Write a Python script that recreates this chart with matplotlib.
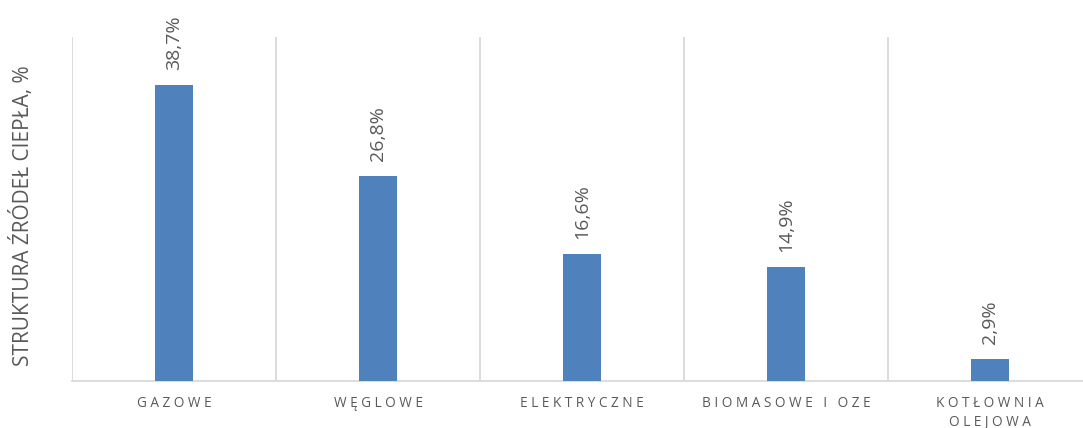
import matplotlib
matplotlib.use("Agg")
import matplotlib.pyplot as plt
import numpy as np

categories = ["GAZOWE", "WĘGLOWE", "ELEKTRYCZNE", "BIOMASOWE I OZE", "KOTŁOWNIA\nOLEJOWA"]
shares = [38.7, 26.8, 16.6, 14.9, 2.9]

BAR = "#4f81bd"
TEXT = "#595959"
GRID = "#d9d9d9"

plt.rcParams["font.family"] = ["Open Sans", "DejaVu Sans"]


def spaced(label):
    # wide letter tracking for the category axis
    return "\n".join(" ".join(line) for line in label.split("\n"))


fig = plt.figure(figsize=(10.83, 4.28), dpi=100)
ax = fig.add_axes([72 / 1083, 47 / 428, 1020 / 1083, 344 / 428])

x = np.arange(len(categories))
ax.bar(x, shares, width=0.187, color=BAR, zorder=3)
ax.set_xlim(-0.5, len(categories) - 0.5)
ax.set_ylim(0, 45)

for b in np.arange(-0.5, len(categories), 1.0):
    ax.axvline(b, color=GRID, lw=1.3, zorder=1)

for xi, v in zip(x, shares):
    ax.annotate(f"{v:.1f}%".replace(".", ","), (xi, v), xytext=(0, 11),
                textcoords="offset points", rotation=90, ha="center", va="bottom",
                fontsize=14, color=TEXT)

ax.set_xticks(x)
ax.set_xticklabels([spaced(c) for c in categories], fontsize=9.8, color=TEXT,
                   linespacing=1.35)
ax.tick_params(axis="x", length=0, pad=11)
ax.set_yticks([])
for s in ("top", "right", "left"):
    ax.spines[s].set_visible(False)
ax.spines["bottom"].set_color(GRID)
ax.spines["bottom"].set_linewidth(1.3)

fig.text(22 / 1083, (428 - 216) / 428, "STRUKTURA ŹRÓDEŁ CIEPŁA, %", rotation=90,
         ha="center", va="center", fontsize=15, color=TEXT)

fig.savefig("out.png", dpi=100)
